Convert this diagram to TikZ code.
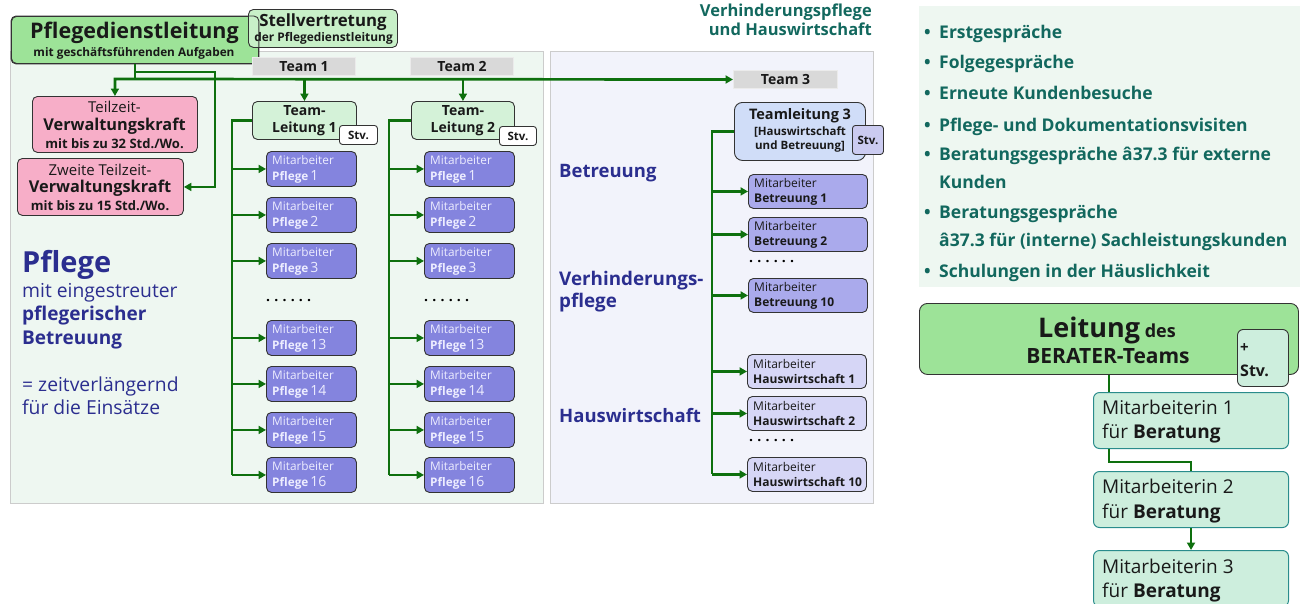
\documentclass[tikz,border=0pt]{standalone}
\usepackage{fontspec}
\setmainfont{Open Sans}
\usetikzlibrary{arrows.meta}
\definecolor{lgreen}{RGB}{14,112,14}
\definecolor{pdlg}{RGB}{157,227,152}
\definecolor{stvg}{RGB}{200,240,200}
\definecolor{tlg}{RGB}{212,242,216}
\definecolor{pang}{RGB}{238,247,241}
\definecolor{panb}{RGB}{242,243,251}
\definecolor{pinkb}{RGB}{247,174,200}
\definecolor{teamgr}{RGB}{217,217,217}
\definecolor{pflp}{RGB}{132,132,222}
\definecolor{betp}{RGB}{170,170,236}
\definecolor{hwp}{RGB}{214,214,246}
\definecolor{tlblue}{RGB}{208,221,248}
\definecolor{stvthree}{RGB}{203,203,240}
\definecolor{mintb}{RGB}{205,238,221}
\definecolor{tealb}{RGB}{42,140,140}
\definecolor{navyt}{RGB}{43,46,143}
\definecolor{tealt}{RGB}{18,104,94}
\definecolor{darkt}{RGB}{25,25,25}
\newcommand\fsz[1]{\fontsize{#1}{#1}\selectfont}
\newcommand\mab[6]{%
  \node[#5,anchor=north west,minimum width=#4] (#1) at (#2,#3) {};
  \node[#5txt,anchor=west,align=left,inner sep=0pt] (#1t) at ([xshift=6pt]#1.west) {#6};}
\tikzset{
  bx/.style={draw=black!80,line width=0.9pt,rounded corners=5pt,inner sep=0pt},
  panel/.style={draw=black!20,line width=1.2pt,inner sep=0pt},
  conn/.style={draw=lgreen,line width=2.7pt},
  arr/.style={conn,-{Triangle[length=7.5pt,width=8pt]}},
  lbl/.style={inner sep=0pt},
  teambox/.style={draw=white!92!black,line width=1pt,fill=teamgr,inner sep=0pt,minimum height=18,font=\fsz{14}\bfseries,text=darkt},
  stvbox/.style={bx,rounded corners=3pt,fill=white,font=\fsz{11.5}\bfseries,text=darkt},
  pfl/.style={bx,fill=pflp,minimum height=35},
  pfltxt/.style={font=\fontsize{11.8}{16}\selectfont,text=white!93!blue},
  betr/.style={bx,fill=betp,minimum height=34},
  betrtxt/.style={font=\fontsize{12}{15}\selectfont,text=darkt},
  hw/.style={bx,fill=hwp,minimum height=34},
  hwtxt/.style={font=\fontsize{12}{15}\selectfont,text=darkt},
  navylbl/.style={lbl,text=navyt,anchor=base west},
  listtxt/.style={lbl,text=tealt,font=\fsz{17.5}\bfseries,anchor=base west},
  dots/.style={lbl,font=\fsz{14}\bfseries\addfontfeature{LetterSpace=30},anchor=west},
  mabox/.style={draw=tealb,line width=1pt,rounded corners=6pt,fill=mintb,inner sep=0pt,minimum width=195,minimum height=56,anchor=north west},
  matxt/.style={lbl,font=\fsz{19},text=darkt,anchor=base west}
}
\begin{document}
\begin{tikzpicture}[x=1pt,y=-1pt]
\useasboundingbox (0,0) rectangle (1301,603);
% panels
\node[panel,fill=pang,minimum width=533,minimum height=452,anchor=north west] (pp) at (10,51) {};
\node[panel,fill=panb,minimum width=323,minimum height=452,anchor=north west] (vp) at (550,51) {};
\node[inner sep=0pt,fill=pang,minimum width=381,minimum height=281,anchor=north west] (bp) at (919,6) {};
% header
\node[lbl,text=tealt,font=\fsz{16.5}\bfseries,anchor=base east] (h1) at (872,16) {Verhinderungspflege};
\node[lbl,text=tealt,font=\fsz{16.5}\bfseries,anchor=base east] (h2) at (872,35) {und Hauswirtschaft};
% top boxes
\node[bx,fill=pdlg,minimum width=247,minimum height=47,anchor=north west] (pdl) at (11,16) {};
\node[bx,fill=stvg,minimum width=149,minimum height=38,anchor=north west] (stv) at (248,9) {};
\draw[bx] (pdl.south west) rectangle (pdl.north east);
\node[lbl,font=\fsz{21.5}\bfseries,text=darkt] (pdlt1) at (134.5,33) {Pflegedienstleitung};
\node[lbl,font=\fsz{11.8}\bfseries,text=darkt] (pdlt2) at (134,53.5) {mit geschäftsführenden Aufgaben};
\node[lbl,font=\fsz{16.8}\bfseries,text=darkt] (stvt1) at (323,22) {Stellvertretung};
\node[lbl,font=\fsz{11.9}\bfseries,text=darkt] (stvt2) at (323.5,38.5) {der Pflegedienstleitung};
% Teilzeit boxes
\node[bx,fill=pinkb,minimum width=165,minimum height=56,anchor=north west] (tz1) at (32,96) {};
\node[lbl,font=\fsz{15},text=darkt] (tz1a) at (114.5,107) {Teilzeit-};
\node[lbl,font=\fsz{16.3}\bfseries,text=darkt] (tz1b) at (114.5,126) {Verwaltungskraft};
\node[lbl,font=\fsz{13}\bfseries,text=darkt] (tz1c) at (114.5,144) {mit bis zu 32 Std./Wo.};
\node[bx,fill=pinkb,minimum width=166,minimum height=57,anchor=north west] (tz2) at (17,158) {};
\node[lbl,font=\fsz{15},text=darkt] (tz2a) at (100,170) {Zweite Teilzeit-};
\node[lbl,font=\fsz{16.3}\bfseries,text=darkt] (tz2b) at (100,188) {Verwaltungskraft};
\node[lbl,font=\fsz{13}\bfseries,text=darkt] (tz2c) at (100,206) {mit bis zu 15 Std./Wo.};
% team labels
\node[teambox,minimum width=103,anchor=north west] (t1) at (252,57) {Team 1};
\node[teambox,minimum width=103,anchor=north west] (t2) at (410,57) {Team 2};
\node[teambox,minimum width=104,anchor=north west] (t3) at (733,70) {Team 3};
% team leads
\node[bx,fill=tlg,minimum width=104,minimum height=38,anchor=north west,align=center,font=\fontsize{14}{17}\selectfont\bfseries,text=darkt] (tl1) at (252,101) {Team-\\Leitung 1};
\node[stvbox,minimum width=38,minimum height=19,anchor=north west] (s1) at (339,125) {Stv.};
\node[bx,fill=tlg,minimum width=103,minimum height=38,anchor=north west,align=center,font=\fontsize{14}{17}\selectfont\bfseries,text=darkt] (tl2) at (411,101) {Team-\\Leitung 2};
\node[stvbox,minimum width=37,minimum height=19,anchor=north west] (s2) at (499,126) {Stv.};
\node[bx,rounded corners=8pt,fill=tlblue,minimum width=131,minimum height=58,anchor=north west] (tl3) at (734,102) {};
\node[lbl,font=\fsz{14.5}\bfseries,text=darkt] (tl3a) at (800,116) {Teamleitung 3};
\node[lbl,font=\fsz{11.5}\bfseries,text=darkt] (tl3b) at (800,132) {[Hauswirtschaft};
\node[lbl,font=\fsz{11.5}\bfseries,text=darkt] (tl3c) at (800,147) {und Betreuung]};
\node[stvbox,fill=stvthree,minimum width=31,minimum height=29,anchor=north west] (s3) at (852,125) {Stv.};
% bus coordinates
\coordinate (c1) at (232,0);
\coordinate (c2) at (389,0);
\coordinate (c3) at (712,0);
\coordinate (my) at (0,79);
\coordinate (j1) at (135,72);
\coordinate (cz) at (215,0);
% Mitarbeiter Pflege
\foreach \n/\y/\t in {a/151/1,b/197/2,c/243/3,d/320/13,e/366/14,f/412/15,g/457/16}{
  \mab{pa\n}{266}{\y}{90}{pfl}{Mitarbeiter\\\textbf{Pflege}\,{\fontsize{14}{16}\selectfont\t}}
  \mab{pb\n}{424}{\y}{90}{pfl}{Mitarbeiter\\\textbf{Pflege}\,{\fontsize{14}{16}\selectfont\t}}
}
\node[dots] (dt1) at (266,301) {......};
\node[dots] (dt2) at (424,301) {......};
% Betreuung / HW
\foreach \n/\y/\t in {a/174/1,b/217/2,c/278/10}{
  \mab{be\n}{748}{\y}{119}{betr}{Mitarbeiter\\\textbf{Betreuung \t}}
}
\foreach \n/\y/\t in {a/354/1,b/396/2,c/457/10}{
  \mab{hw\n}{747}{\y}{119}{hw}{Mitarbeiter\\\textbf{Hauswirtschaft \t}}
}
\node[dots] (dt3) at (749,262) {......};
\node[dots] (dt4) at (749,441) {......};
% connectors top
\draw[conn] (pdl.south) -- (pdl.south |- my);
\draw[conn,{Triangle[length=7.5pt,width=8pt]}-{Triangle[length=7.5pt,width=8pt]}] (tz1.north) -- (tz1.north |- my) -- (t3.west);
\draw[arr] (tl1.north |- my) -- (tl1.north);
\draw[arr] (tl2.north |- my) -- (tl2.north);
\draw[arr] (j1) -| (cz |- tz2.east) -- (tz2.east);
% buses
\draw[conn] (tl1.west) -| (c1 |- pag.west);
\draw[conn] (tl2.west) -| (c2 |- pbg.west);
\draw[conn] (tl3.west) -| (c3 |- hwc.west);
\foreach \n in {a,b,c,d,e,f,g}{
  \draw[arr] (c1 |- pa\n.west) -- (pa\n.west);
  \draw[arr] (c2 |- pb\n.west) -- (pb\n.west);
}
\foreach \n in {a,b,c}{
  \draw[arr] (c3 |- be\n.west) -- (be\n.west);
  \draw[arr] (c3 |- hw\n.west) -- (hw\n.west);
}
% left texts
\node[navylbl,font=\fsz{29}\bfseries] (lp1) at (22,272) {Pflege};
\node[navylbl,font=\fsz{19.3}] (lp2) at (22,297) {mit eingestreuter};
\node[navylbl,font=\fsz{19}\bfseries] (lp3) at (22,320) {pflegerischer};
\node[navylbl,font=\fsz{19}\bfseries] (lp4) at (22,344) {Betreuung};
\node[navylbl,font=\fsz{19.3}] (lp5) at (22,391) {= zeitverlängernd};
\node[navylbl,font=\fsz{19.3}] (lp6) at (22,414) {für die Einsätze};
\node[navylbl,font=\fsz{18.5}\bfseries] (vb1) at (559,177) {Betreuung};
\node[navylbl,font=\fsz{18.8}\bfseries] (vb2) at (559,285) {Verhinderungs-};
\node[navylbl,font=\fsz{18.8}\bfseries] (vb3) at (559,307) {pflege};
\node[navylbl,font=\fsz{18.5}\bfseries] (vb4) at (559,422) {Hauswirtschaft};
% list
\foreach \y/\t [count=\i] in {38/Erstgespräche,68/Folgegespräche,99/Erneute Kundenbesuche,131/Pflege- und Dokumentationsvisiten,160/Beratungsgespräche â37.3 für externe,218/Beratungsgespräche,277/Schulungen in der Häuslichkeit}{
  \node[listtxt] (li\i) at (939,\y) {\t};
  \node[listtxt] (lb\i) at (924,\y) {•};
}
\node[listtxt] (lk1) at (939,188) {Kunden};
\node[listtxt] (lk2) at (939,246) {â37.3 für (interne) Sachleistungskunden};
% Berater
\node[bx,rounded corners=8pt,fill=pdlg,minimum width=379,minimum height=71,anchor=north west] (ld) at (919,303) {};
\node[lbl,anchor=base,text=darkt] (ldt1) at (1107,337) {\fsz{27}\bfseries Leitung\fsz{18}\bfseries\ des};
\node[lbl,anchor=base,text=darkt,font=\fsz{21}\bfseries] (ldt2) at (1108,363) {BERATER-Teams};
\node[bx,rounded corners=6pt,fill=mintb,minimum width=51,minimum height=57,anchor=north west] (lds) at (1237,329) {};
\node[lbl,anchor=base west,font=\fsz{15}\bfseries,text=darkt] (ldsa) at (1240,352) {+};
\node[lbl,anchor=base west,font=\fsz{16}\bfseries,text=darkt] (ldsb) at (1240,376) {Stv.};
\coordinate (mx1) at (1109,462);
\coordinate (mx2) at (1191,462);
\node[mabox] (ma1) at (1093,392) {};
\node[mabox] (ma2) at (1093,471) {};
\node[mabox] (ma3) at (1093,550) {};
\draw[conn] (ld.south -| mx1) -- (ma1.north -| mx1);
\draw[conn] (ma1.south -| mx1) -- (mx1) -- (mx2) -- (ma2.north -| mx2);
\draw[arr] (ma2.south -| mx2) -- (ma3.north -| mx2);
\node[matxt] (m1a) at (1102,414) {Mitarbeiterin 1};
\node[matxt] (m1b) at (1102,438) {für \textbf{Beratung}};
\node[matxt] (m2a) at (1102,493) {Mitarbeiterin 2};
\node[matxt] (m2b) at (1102,518) {für \textbf{Beratung}};
\node[matxt] (m3a) at (1102,573) {Mitarbeiterin 3};
\node[matxt] (m3b) at (1102,597) {für \textbf{Beratung}};
\end{tikzpicture}
\end{document}
